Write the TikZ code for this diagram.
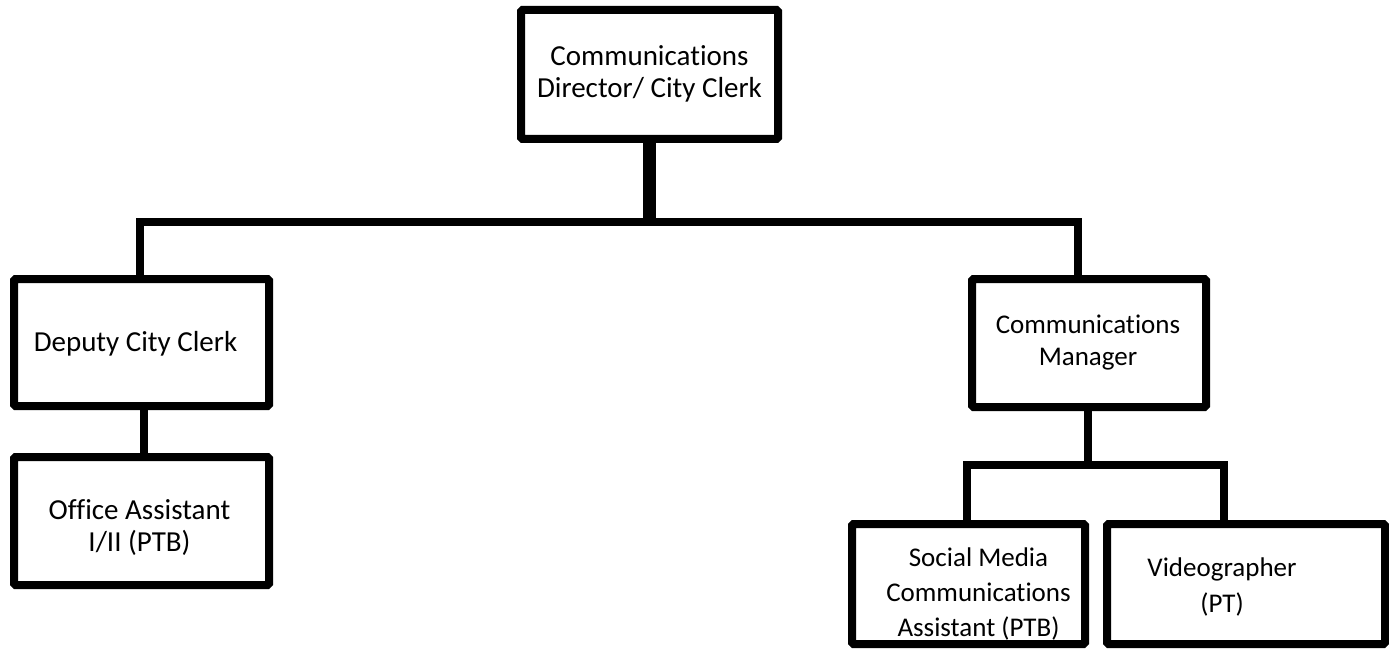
\documentclass[tikz,border=0pt]{standalone}
\usepackage{fontspec}
\setmainfont{Carlito}[Ligatures=NoCommon]
\begin{document}
\begin{tikzpicture}[x=1pt,y=-1pt,
  box/.style={draw=black, line width=8pt, fill=white, rounded corners=1.5pt,
    inner sep=0pt, minimum width=#1},
  txt/.style={align=center, inner sep=0pt, font=\fontsize{29}{32}\selectfont},
  small/.style={txt, font=\fontsize{27}{32}\selectfont},
  conn/.style={draw=black, line width=8pt, line join=miter, line cap=butt},
  trunk/.style={draw=black, line width=13pt, line cap=butt}]
\useasboundingbox (0,0) rectangle (1389,655);

% junction points of the connector lines
\coordinate (hub) at (649,222);
\coordinate (busL) at (140,222);
\coordinate (busR) at (1078,222);
\coordinate (subhub) at (1088,465);
\coordinate (subL) at (967,465);
\coordinate (subR) at (1224,465);

% connectors
\draw[trunk] (649,139) coordinate (dirfoot) -- (hub);
\draw[conn] (busL |- 0,279) coordinate (depTop) -- (busL) -- (busR) -- (busR |- 0,279) coordinate (mgrTop);
\draw[conn] (144,406) coordinate (depFoot) -- (144,457) coordinate (offTop);
\draw[conn] (subhub |- 0,407) coordinate (mgrFoot) -- (subhub);
\draw[conn] (subL |- 0,524) coordinate (socTop) -- (subL) -- (subR) -- (subR |- 0,524) coordinate (vidTop);

% boxes
\node[box=257pt, minimum height=129pt] (dir) at (649.5,74.5) {};
\node[box=255pt, minimum height=127pt] (dep) at (141.5,342.5) {};
\node[box=255pt, minimum height=128pt] (off) at (141.5,521) {};
\node[box=234pt, minimum height=128pt] (mgr) at (1089,343) {};
\node[box=233pt, minimum height=120pt] (soc) at (968.5,584) {};
\node[box=278pt, minimum height=120pt] (vid) at (1246,584) {};

% titles
\node[txt] (dirT) at ([yshift=1pt]dir.center) {Communications\\Director/ City Clerk};
\node[txt] (depT) at ([xshift=-6pt,yshift=-1pt]dep.center) {Deputy City Clerk};
\node[txt] (offT) at ([xshift=-2pt,yshift=-7pt]off.center) {Office Assistant\\I/II (PTB)};
\node[small] (mgrT) at ([xshift=-1pt]mgr.center) {Communications\\Manager};
\node[small, font=\fontsize{27}{35}\selectfont] (socT) at ([xshift=10pt,yshift=-10pt]soc.center) {Social Media\\Communications\\Assistant (PTB)};
\node[small, font=\fontsize{27}{36}\selectfont] (vidT) at ([xshift=-24pt,yshift=-3pt]vid.center) {Videographer\\(PT)};
\end{tikzpicture}
\end{document}
